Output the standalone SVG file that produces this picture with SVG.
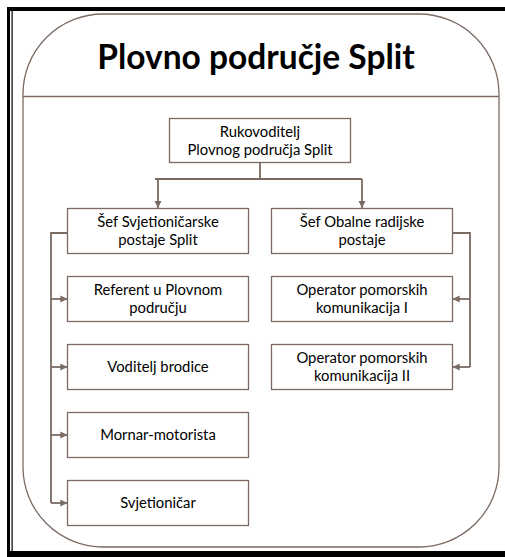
<svg xmlns="http://www.w3.org/2000/svg" width="505" height="557" viewBox="0 0 505 557">
  <style>
    .box { fill: #ffffff; stroke: #7b6a62; stroke-width: 1.3; }
    .lbl { font-family: Lato, "Liberation Sans", sans-serif; font-size: 14.8px; fill: #000; text-anchor: middle; }
    .title { font-family: Lato, "Liberation Sans", sans-serif; font-size: 33.5px; font-weight: bold; fill: #000; text-anchor: middle; }
    .conn { fill: none; stroke: #7b6a62; stroke-width: 1.8; }
  </style>
  <defs>
    <marker id="arr" viewBox="0 0 10 10" refX="10" refY="5" markerWidth="4" markerHeight="4" orient="auto" markerUnits="strokeWidth">
      <path d="M0,0 L10,5 L0,10 z" fill="#7b6a62"/>
    </marker>
  </defs>
  <rect width="505" height="557" fill="#ffffff"/>

  <!-- page border -->
  <g id="page-border" fill="#000">
    <rect x="7" y="7" width="498" height="4"/>
    <rect x="7" y="7" width="3" height="550"/>
    <rect x="11.5" y="11" width="1.2" height="540"/>
    <rect x="7" y="551" width="498" height="6"/>
  </g>

  <!-- rounded panel with title band -->
  <g id="panel">
    <rect x="23" y="14" width="476" height="533" rx="80" ry="80" fill="#ffffff" stroke="#7b6a62" stroke-width="1.3"/>
    <line x1="23" y1="96.5" x2="499" y2="96.5" stroke="#7b6a62" stroke-width="1.3"/>
    <text class="title" x="256" y="69">Plovno područje Split</text>
  </g>

  <!-- connectors -->
  <g id="connectors">
    <path class="conn" d="M260,163 V179 M155,179 H362"/>
    <path class="conn" marker-end="url(#arr)" d="M158,179 V208"/>
    <path class="conn" marker-end="url(#arr)" d="M362,179 V208"/>
    <path class="conn" d="M67.5,233 H51 V503"/>
    <path class="conn" marker-end="url(#arr)" d="M51,299 H67.5"/>
    <path class="conn" marker-end="url(#arr)" d="M51,367 H67.5"/>
    <path class="conn" marker-end="url(#arr)" d="M51,435 H67.5"/>
    <path class="conn" marker-end="url(#arr)" d="M51,503 H67.5"/>
    <path class="conn" d="M452.5,233 H470 V367"/>
    <path class="conn" marker-end="url(#arr)" d="M470,299 H452.5"/>
    <path class="conn" marker-end="url(#arr)" d="M470,367 H452.5"/>
  </g>

  <g id="rukovoditelj">
    <rect class="box" x="169.5" y="118.5" width="181" height="44"/>
    <text class="lbl" x="260" y="136.7">Rukovoditelj</text>
    <text class="lbl" x="260" y="155">Plovnog područja Split</text>
  </g>

  <g id="sef-svjetionicarske">
    <rect class="box" x="67.5" y="208.5" width="181" height="45"/>
    <text class="lbl" x="158" y="227">Šef Svjetioničarske</text>
    <text class="lbl" x="158" y="245.3">postaje Split</text>
  </g>

  <g id="sef-obalne">
    <rect class="box" x="271.5" y="208.5" width="181" height="45"/>
    <text class="lbl" x="362" y="227">Šef Obalne radijske</text>
    <text class="lbl" x="362" y="245.3">postaje</text>
  </g>

  <g id="referent">
    <rect class="box" x="67.5" y="276.5" width="181" height="45"/>
    <text class="lbl" x="158" y="295">Referent u Plovnom</text>
    <text class="lbl" x="158" y="313.3">području</text>
  </g>

  <g id="voditelj-brodice">
    <rect class="box" x="67.5" y="344.5" width="181" height="45"/>
    <text class="lbl" x="158" y="372">Voditelj brodice</text>
  </g>

  <g id="mornar-motorista">
    <rect class="box" x="67.5" y="412.5" width="181" height="45"/>
    <text class="lbl" x="158" y="440">Mornar-motorista</text>
  </g>

  <g id="svjetionicar">
    <rect class="box" x="67.5" y="480.5" width="181" height="45"/>
    <text class="lbl" x="158" y="508">Svjetioničar</text>
  </g>

  <g id="operator-1">
    <rect class="box" x="271.5" y="276.5" width="181" height="45"/>
    <text class="lbl" x="362" y="295">Operator pomorskih</text>
    <text class="lbl" x="362" y="313.3">komunikacija I</text>
  </g>

  <g id="operator-2">
    <rect class="box" x="271.5" y="344.5" width="181" height="45"/>
    <text class="lbl" x="362" y="363">Operator pomorskih</text>
    <text class="lbl" x="362" y="381.3">komunikacija II</text>
  </g>
</svg>
